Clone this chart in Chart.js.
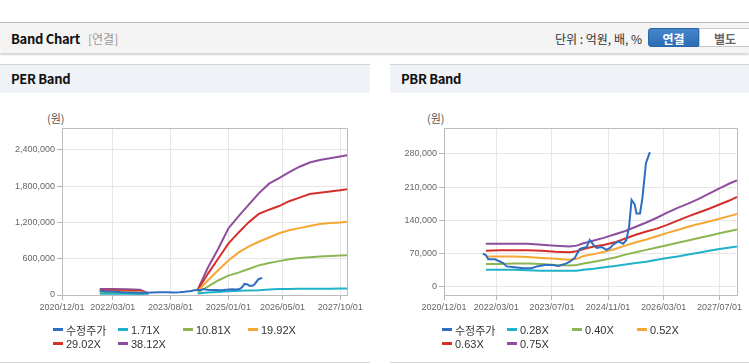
<!DOCTYPE html>
<html>
<head>
<meta charset="utf-8">
<script src="https://cdn.jsdelivr.net/npm/chart.js@4.4.1/dist/chart.umd.min.js"></script>
<style>
  body { margin: 0; width: 749px; height: 364px; overflow: hidden; background: #fff; font-family: "Noto Sans CJK KR", "Liberation Sans", sans-serif; position: relative; }
  .topbar { position: absolute; left: 0; top: 22px; width: 749px; height: 30px; background: #f4f4f4; border-top: 1px solid #b9b9b9; box-shadow: 0 2px 2px rgba(0,0,0,0.18); }
  .topbar .title { position: absolute; left: 11px; top: 6px; font-size: 13px; font-weight: 700; color: #111; letter-spacing: -0.3px; }
  .topbar .sub { position: absolute; left: 88px; top: 7px; font-size: 12px; color: #999; }
  .topbar .unit { position: absolute; right: 107px; top: 7px; font-size: 12px; color: #333; }
  .btn { position: absolute; top: 5px; height: 19px; width: 51px; font-size: 12px; font-weight: 700; text-align: center; line-height: 19px; box-sizing: border-box; }
  .btn.on { left: 648px; background: linear-gradient(#4486cc, #2c6cb3); color: #fff; border: 1px solid #2b66a8; border-radius: 3px 0 0 3px; }
  .btn.off { left: 699px; width: 52px; background: #fff; color: #666; border: 1px solid #c8c8c8; }
  .panel { position: absolute; top: 64px; height: 298px; border-bottom: 1px solid #d6d6d6; }
  .panel .head { height: 28px; background: #eff2f7; border-top: 1px solid #d2d2d2; font-size: 13px; font-weight: 700; color: #111; padding-left: 11px; line-height: 28px; letter-spacing: -0.3px; }
  .unitlbl { position: absolute; top: 110px; font-size: 11px; color: #555; }
  canvas { position: absolute; }
  .legend { position: absolute; top: 323px; font-family: "Liberation Sans", "Noto Sans CJK KR", sans-serif; font-size: 11px; color: #333; display: grid; grid-template-columns: 65px 65px 65px 65px; row-gap: 1px; }
  .legend span { display: flex; align-items: center; height: 13px; white-space: nowrap; }
  .legend i { display: inline-block; width: 10px; height: 3px; margin-right: 3px; }
</style>
</head>
<body>
<div class="topbar">
  <div class="title">Band Chart</div>
  <div class="sub">[연결]</div>
  <div class="unit">단위 : 억원, 배, %</div>
  <div class="btn on">연결</div>
  <div class="btn off">별도</div>
</div>
<div class="panel" style="left:0;width:370px"><div class="head">PER Band</div></div>
<div class="panel" style="left:390px;width:359px"><div class="head">PBR Band</div></div>
<div class="unitlbl" style="left:47px">(원)</div>
<div class="unitlbl" style="left:427px">(원)</div>
<canvas id="perChart" width="370" height="235" style="left:0;top:93px"></canvas>
<canvas id="pbrChart" width="369" height="235" style="left:380px;top:93px"></canvas>
<div class="legend" id="perLegend" style="left:53px"></div>
<div class="legend" id="pbrLegend" style="left:442px"></div>
<script>
// 수정주가 (shared by both charts)
var priceDates = ['2021/11/04','2021/12/01','2021/12/22','2022/02/19','2022/05/01','2022/06/01','2022/08/10','2022/10/22',
  '2023/01/04','2023/02/19','2023/04/28','2023/07/10','2023/08/25','2023/10/22','2023/12/04','2024/01/16','2024/02/01',
  '2024/03/01','2024/03/28','2024/04/28','2024/05/25','2024/06/25','2024/07/25','2024/09/07','2024/10/19','2024/11/19',
  '2024/12/16','2025/01/28','2025/03/13','2025/04/10','2025/05/04','2025/05/25','2025/06/22','2025/07/07','2025/08/07',
  '2025/08/28','2025/09/28','2025/11/01'];
var price = [69000,66000,57000,57000,49000,42000,40000,38000,
  38000,42000,45000,45000,43000,47000,52000,60000,67000,
  79000,81000,83000,98000,88000,81000,83000,77000,81000,
  88000,95000,90000,98000,127000,183000,173000,154000,154000,
  187000,261000,284000];

// PER band
var perLabels = ['수정주가','1.71X','10.81X','19.92X','29.02X','38.12X'];
var perDates = ['2021/11/05','2022/03/01','2022/07/01','2022/11/01','2023/01/15','2023/06/01',
  '2024/04/01','2024/07/01','2024/10/01','2025/01/01','2025/04/01','2025/07/01','2025/10/01','2026/01/01',
  '2026/04/01','2026/07/01','2026/10/01','2027/01/01','2027/04/01','2027/07/01','2027/10/01','2027/12/01'];
var per171 = [20000,20000,19000,18000,22000,null,
  25000,40000,50000,60000,70000,75000,80000,90000,98000,100000,102000,103000,104000,105000,106000,108000];
var per1081 = [35000,35000,33000,32000,28000,null,
  45000,140000,240000,320000,370000,430000,490000,530000,560000,590000,610000,625000,638000,645000,652000,655000];
var per1992 = [55000,55000,52000,48000,30000,null,
  65000,240000,410000,570000,700000,800000,880000,950000,1020000,1070000,1105000,1140000,1175000,1190000,1200000,1210000];
var per2902 = [75000,75000,72000,65000,30000,null,
  80000,350000,600000,850000,1030000,1200000,1340000,1410000,1470000,1550000,1610000,1670000,1690000,1710000,1730000,1750000];
var per3812 = [100000,100000,95000,85000,30000,null,
  90000,450000,760000,1100000,1300000,1490000,1680000,1840000,1930000,2030000,2120000,2190000,2230000,2260000,2290000,2310000];
var perYTicks = [0, 600000, 1200000, 1800000, 2400000];
var perXTicks = ['2020/12/01','2022/03/01','2023/08/01','2025/01/01','2026/05/01','2027/10/01'];

// PBR band
var pbrLabels = ['수정주가','0.28X','0.40X','0.52X','0.63X','0.75X'];
var pbrDates = ['2021/12/01','2022/04/01','2022/08/01','2022/12/01','2023/04/01','2023/08/01','2023/12/01','2024/02/01',
  '2024/04/01','2024/07/01','2024/10/01','2025/01/01','2025/04/01','2025/07/01','2025/10/01','2026/01/01',
  '2026/04/01','2026/07/01','2026/10/01','2027/01/01','2027/04/01','2027/07/01','2027/10/01','2027/12/01'];
var pbr028 = [35000,35000,35000,34000,33000,33000,33000,33000,35000,37000,40000,43000,46000,49000,52000,56000,60000,63000,67000,71000,75000,79000,82000,84000];
var pbr040 = [47000,47000,48000,48000,47000,45000,44000,45000,48000,52000,56000,61000,67000,72000,77000,82000,87000,92000,97000,102000,107000,112000,117000,120000];
var pbr052 = [63000,63000,63000,62000,60000,58000,56000,58000,64000,68000,73000,79000,86000,93000,99000,106000,113000,119000,126000,132000,137000,143000,149000,153000];
var pbr063 = [75000,76000,76000,76000,75000,73000,72000,74000,79000,84000,88000,93000,101000,109000,116000,122000,130000,139000,148000,156000,164000,173000,182000,189000];
var pbr075 = [90000,90000,90000,90000,88000,86000,84000,86000,91000,97000,103000,110000,117000,126000,135000,145000,156000,166000,175000,185000,196000,207000,218000,224000];
var pbrYTicks = [0, 70000, 140000, 210000, 280000];
var pbrXTicks = ['2020/12/01','2022/03/01','2023/07/01','2024/11/01','2026/03/01','2027/07/01'];

var colors = ['#2f6fc1', '#1fb2c8', '#8db653', '#f4a733', '#d4302b', '#8e4e9d'];

function dayNum(s) {
  var p = s.split('/').map(Number);
  return (Date.UTC(p[0], p[1] - 1, p[2]) - Date.UTC(2020, 11, 1)) / 86400000;
}
function pts(dates, vals) {
  return dates.map(function (d, i) { return { x: dayNum(d), y: vals[i] }; });
}
function fmt(v) { return v.toLocaleString('en-US'); }

var frame = {
  id: 'frame',
  beforeDatasetsDraw: function (c) {
    var a = c.chartArea, ctx = c.ctx;
    ctx.save();
    ctx.strokeStyle = '#bcbcbc';
    ctx.lineWidth = 1;
    ctx.beginPath();
    ctx.moveTo(a.left, Math.round(a.top) + 0.5);
    ctx.lineTo(Math.round(a.right) + 0.5, Math.round(a.top) + 0.5);
    ctx.lineTo(Math.round(a.right) + 0.5, a.bottom);
    ctx.stroke();
    ctx.restore();
  }
};

function makeChart(id, labels, series, yMin, yMax, yTicks, xTicks, yWidth, padRight) {
  var datasets = series.map(function (s, i) {
    return { label: labels[i], data: s, borderColor: colors[i], borderWidth: 2, pointRadius: 0, tension: 0, fill: false, spanGaps: false };
  });
  return new Chart(document.getElementById(id), {
    type: 'line',
    data: { datasets: datasets },
    options: {
      responsive: false,
      animation: false,
      devicePixelRatio: 1,
      layout: { padding: { left: 0, top: 35, right: padRight, bottom: 8 } },
      plugins: { legend: { display: false }, tooltip: { enabled: false } },
      scales: {
        x: {
          type: 'linear',
          min: 0,
          max: dayNum('2027/12/01'),
          afterBuildTicks: function (s) { s.ticks = xTicks.map(function (t) { return { value: dayNum(t) }; }); },
          afterFit: function (s) { s.height = 25; s.paddingLeft = 0; s.paddingRight = 0; },
          ticks: { autoSkip: false, maxRotation: 0, padding: 2, color: '#666', font: { family: 'Liberation Sans', size: 9 },
            callback: function (v, i) { return xTicks[i]; } },
          grid: { color: '#e6e6e6', tickColor: '#b5b5b5', tickLength: 5 },
          border: { color: '#bcbcbc' }
        },
        y: {
          min: yMin,
          max: yMax,
          afterBuildTicks: function (s) { s.ticks = yTicks.map(function (t) { return { value: t }; }); },
          afterFit: function (s) { s.width = yWidth; s.paddingTop = 0; s.paddingBottom = 0; },
          ticks: { padding: 2, color: '#666', font: { family: 'Liberation Sans', size: 9 }, callback: function (v) { return fmt(v); } },
          grid: { color: '#e6e6e6', tickColor: '#b5b5b5', tickLength: 5 },
          border: { color: '#bcbcbc' }
        }
      }
    },
    plugins: [frame]
  });
}

function makeLegend(id, labels) {
  var box = document.getElementById(id);
  labels.forEach(function (l, i) {
    var item = document.createElement('span');
    item.innerHTML = '<i style="background:' + colors[i] + '"></i>' + l;
    box.appendChild(item);
  });
}

makeChart('perChart', perLabels,
  [pts(priceDates, price), pts(perDates, per171), pts(perDates, per1081), pts(perDates, per1992), pts(perDates, per2902), pts(perDates, per3812)],
  0, 2760000, perYTicks, perXTicks, 62, 23);
makeChart('pbrChart', pbrLabels,
  [pts(priceDates, price), pts(pbrDates, pbr028), pts(pbrDates, pbr040), pts(pbrDates, pbr052), pts(pbrDates, pbr063), pts(pbrDates, pbr075)],
  -18500, 335000, pbrYTicks, pbrXTicks, 64, 12);
makeLegend('perLegend', perLabels);
makeLegend('pbrLegend', pbrLabels);
</script>
</body>
</html>
